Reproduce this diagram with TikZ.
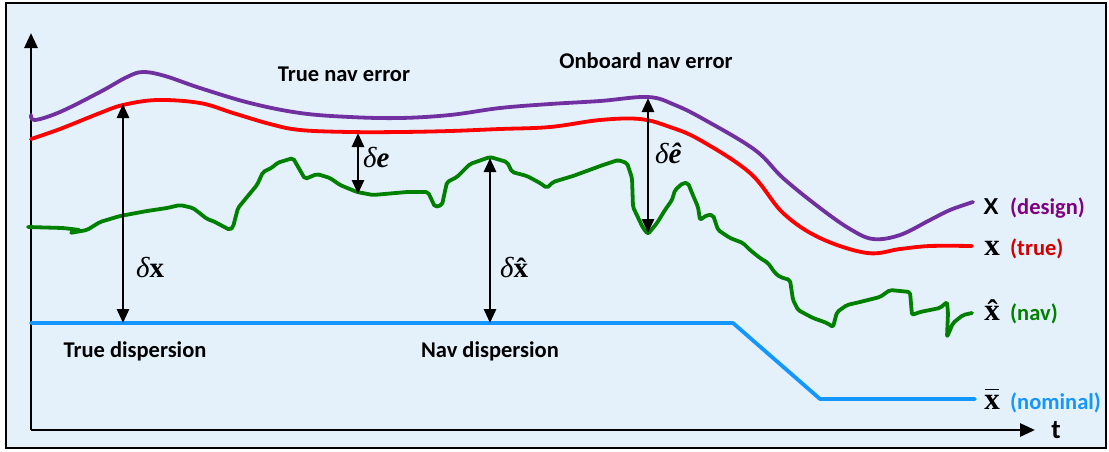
\documentclass[tikz,border=0pt]{standalone}
\usepackage{fontspec}
\setmainfont{Carlito}
\newfontfamily\tnr{Liberation Serif}
\newfontfamily\arl{Liberation Sans}
\usetikzlibrary{arrows.meta}
\definecolor{bg}{RGB}{228,241,251}
\definecolor{cpurple}{RGB}{112,48,160}
\definecolor{cred}{RGB}{255,0,0}
\definecolor{cgreen}{RGB}{0,128,0}
\definecolor{cblue}{RGB}{20,150,255}
\definecolor{lpurple}{RGB}{128,0,128}
\definecolor{lred}{RGB}{210,0,0}
\tikzset{
  curve/.style={line width=3.8pt, line cap=round, line join=round},
  axis/.style={line width=2.8pt, -{Triangle[length=15pt,width=13pt]}},
  meas/.style={line width=2.8pt, {Triangle[length=14pt,width=12pt]}-{Triangle[length=14pt,width=12pt]}},
  lbl/.style={font=\fontsize{22.5}{26}\selectfont\bfseries, inner sep=0pt},
  leg/.style={font=\fontsize{22.5}{26}\selectfont\bfseries, inner sep=0pt, anchor=base west},
  sym/.style={font=\fontsize{31}{33}\selectfont\tnr\bfseries, inner sep=0pt, anchor=base},
  dlbl/.style={font=\fontsize{29}{31}\selectfont\tnr, inner sep=0pt, anchor=base west}
}
\begin{document}
\begin{tikzpicture}[x=1pt,y=-1pt]
\useasboundingbox (0,0) rectangle (1109,451);
\draw[fill=bg, line width=2.5pt] (6,3) rectangle (1106,448);
% axes
\coordinate (o) at (31,430);
\coordinate (ytop) at (31,33);
\coordinate (xend) at (1035,430);
\draw[axis] (o) -- (ytop);
\draw[axis] (o) -- (xend);
\node[font=\fontsize{27}{29}\selectfont\bfseries, inner sep=0pt] (t) at (1056,430) {t};
% nominal
\draw[cblue, curve] (31,323) coordinate (n0) -- (733,323) -- (820,399) -- (975,399) coordinate (n1);
% design
\draw[cpurple, curve] plot[smooth, tension=0.6] coordinates {(31,115) (35,120) (60,112) (100,92) (127,77) (143,72) (165,76) (200,88) (250,103) (300,113) (350,117) (400,118) (450,115) (500,108) (550,104) (600,101) (648,97) (675,105) (705,120) (755,150) (783,178) (820,208) (850,229) (873,239) (900,235) (930,220) (950,210) (973,202)};
% true
\draw[cred, curve] plot[smooth, tension=0.6] coordinates {(31,139) (60,129) (100,113) (123,105) (157,100) (200,103) (233,113) (270,124) (300,130) (350,132) (400,132) (450,131) (500,129) (550,127) (600,120) (640,119) (670,127) (700,140) (750,173) (783,213) (820,238) (867,253) (900,249) (930,246) (972,246)};
% nav
\draw[cgreen, curve, rounded corners=2pt] (28,227) -- (63,228) -- (80,230) -- (70,233) -- (87,230) -- (100,222) -- (120,216) -- (147,211) -- (167,208) -- (180,205) -- (193,208) -- (202,215) -- (207,219) -- (213,221) -- (230,230) -- (233,227) -- (238,208) -- (247,197) -- (257,185) -- (263,172) -- (273,167) -- (277,163) -- (293,158) -- (297,165) -- (305,179) -- (317,174) -- (330,178) -- (340,185) -- (357,192) -- (373,195) -- (407,192) -- (428,192) -- (435,207) -- (442,205) -- (447,182) -- (457,177) -- (470,164) -- (490,157) -- (507,162) -- (512,172) -- (527,176) -- (540,183) -- (547,188) -- (553,182) -- (573,176) -- (603,165) -- (618,160) -- (627,163) -- (632,178) -- (633,207) -- (643,228) -- (648,234) -- (657,223) -- (665,210) -- (672,200) -- (675,190) -- (683,183) -- (688,183) -- (692,193) -- (698,207) -- (700,220) -- (707,215) -- (713,215) -- (718,230) -- (730,238) -- (743,243) -- (750,250) -- (760,258) -- (768,263) -- (775,273) -- (780,277) -- (790,280) -- (793,300) -- (798,310) -- (813,318) -- (827,323) -- (833,327) -- (837,312) -- (847,305) -- (860,302) -- (880,297) -- (890,290) -- (910,292) -- (912,315) -- (920,312) -- (940,308) -- (947,302) -- (948,313) -- (947,337) -- (953,323) -- (963,315) -- (972,313);
% measurement arrows
\coordinate (dxb) at (123,323); \coordinate (dxt) at (123,104);
\coordinate (deb) at (358,194); \coordinate (det) at (358,133);
\coordinate (dhb) at (490,323); \coordinate (dht) at (490,158);
\coordinate (dqb) at (648,233); \coordinate (dqt) at (648,98);
\draw[meas] (dxb) -- (dxt);
\draw[meas] (deb) -- (det);
\draw[meas] (dhb) -- (dht);
\draw[meas] (dqb) -- (dqt);
\node[dlbl] (ldx) at (136,277) {\itshape δ\upshape\bfseries x};
\node[dlbl] (lde) at (363,167) {\itshape δ\bfseries e};
\node[dlbl] (ldh) at (500,277) {\itshape δ\upshape\bfseries \^x};
\node[dlbl] (ldq) at (655,163) {\itshape δ\bfseries \^e};
% titles
\node[lbl] (tne) at (344,74) {True nav error};
\node[lbl] (one) at (646,61) {Onboard nav error};
\node[lbl] (tdi) at (135,351) {True dispersion};
\node[lbl] (ndi) at (490,351) {Nav dispersion};
% legend
\node[font=\fontsize{23}{25}\selectfont\arl\bfseries, inner sep=0pt, anchor=base] (sd) at (991,214) {X};
\node[leg, lpurple] (ld) at (1010,214) {(design)};
\node[sym] (st) at (992,255) {x};
\node[leg, lred] (lt) at (1010,255) {(true)};
\node[sym] (sn) at (992,320) {\^x};
\node[leg, cgreen] (ln) at (1010,320) {(nav)};
\node[sym] (sm) at (992,409) {x};
\draw[line width=1.6pt] ([xshift=0.5pt,yshift=5pt]sm.north west) coordinate (mbl) -- ([xshift=-0.5pt,yshift=5pt]sm.north east) coordinate (mbr);
\node[leg, cblue] (lm) at (1010,409) {(nominal)};
\end{tikzpicture}
\end{document}
